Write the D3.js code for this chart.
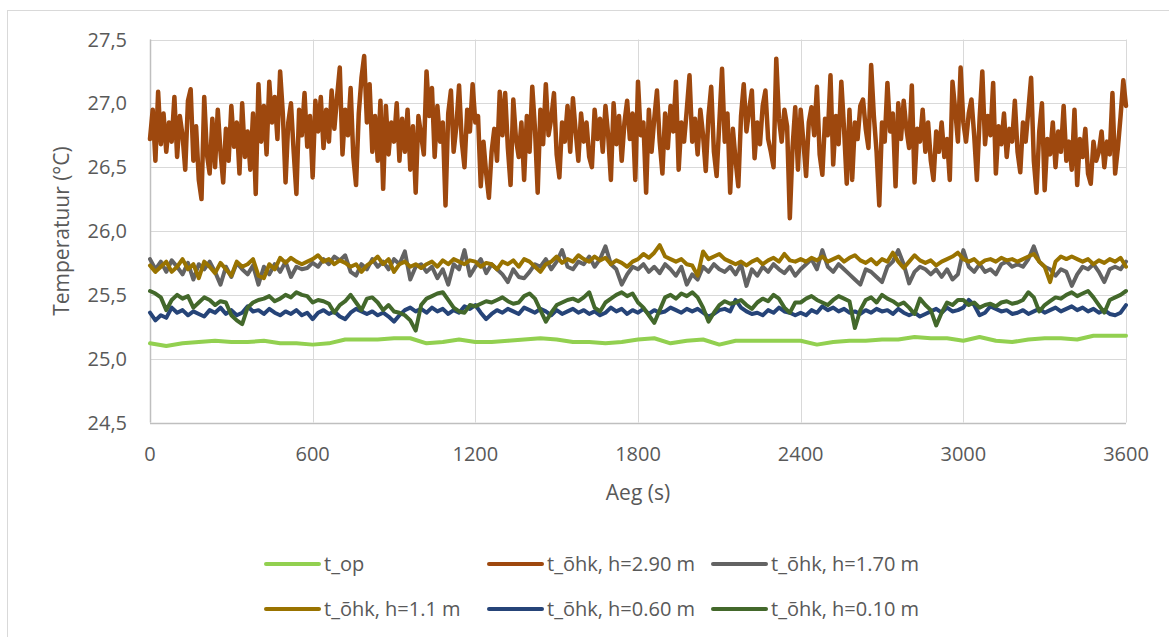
<!DOCTYPE html>
<meta charset="utf-8">
<style>
body {
  margin: 0;
  background: #fff;
}
text {
  font-family: "Open Sans", sans-serif;
  fill: #595959;
}
.grid line {
  stroke: #d9d9d9;
  stroke-width: 1;
}
.series {
  fill: none;
  stroke-linejoin: round;
  stroke-linecap: round;
}
</style>
<div id="chart"></div>
<script src="https://cdn.jsdelivr.net/npm/d3@7"></script>
<script>

// time axis (s)
var xTicks = [0, 600, 1200, 1800, 2400, 3000, 3600]
var yTicks = [24.5, 25.0, 25.5, 26.0, 26.5, 27.0, 27.5]

var timeOp = d3.range(0, 3601, 60)     // t_op sampled every 60 s
var time10 = d3.range(0, 3601, 10)     // h=2.90 every 10 s
var time20 = d3.range(0, 3601, 20)     // others every 20 s

var tOp = [25.12, 25.10, 25.12, 25.13, 25.14, 25.13, 25.13, 25.14, 25.12, 25.12,
  25.11, 25.12, 25.15, 25.15, 25.15, 25.16, 25.16, 25.12, 25.13, 25.15,
  25.13, 25.13, 25.14, 25.15, 25.16, 25.15, 25.13, 25.13, 25.12, 25.13,
  25.15, 25.16, 25.12, 25.14, 25.15, 25.11, 25.14, 25.14, 25.14, 25.14,
  25.14, 25.11, 25.13, 25.14, 25.14, 25.15, 25.15, 25.17, 25.16, 25.16,
  25.14, 25.17, 25.14, 25.13, 25.15, 25.16, 25.16, 25.15, 25.18, 25.18,
  25.18]

var h290 = [26.72, 26.95, 26.55, 27.09, 26.68, 26.92, 26.62, 26.85, 26.70, 27.05,
  26.58, 26.90, 26.75, 26.48, 27.02, 27.11, 26.55, 26.82, 26.40, 26.25,
  27.05, 26.60, 26.45, 26.88, 26.50, 26.95, 26.62, 26.38, 26.80, 26.55,
  26.98, 26.66, 26.85, 26.45, 27.00, 26.58, 26.78, 26.48, 26.92, 26.29,
  27.15, 26.70, 26.98, 26.60, 27.17, 26.85, 27.05, 26.72, 27.25, 26.92,
  26.38, 26.85, 27.00, 26.62, 26.29, 26.95, 26.75, 27.08, 26.66, 26.90,
  26.42, 27.02, 26.78, 27.05, 26.65, 26.95, 26.70, 27.10, 26.80, 27.05,
  27.28, 26.60, 26.95, 26.75, 27.12, 26.58, 26.36, 26.92, 27.20, 27.37,
  26.85, 27.15, 26.62, 26.90, 26.55, 27.02, 26.33, 26.98, 26.60, 26.85,
  26.70, 27.00, 26.55, 26.88, 26.62, 26.95, 26.48, 26.82, 26.30, 26.90,
  26.75, 26.60, 27.25, 26.90, 27.12, 26.58, 26.98, 26.70, 26.85, 26.20,
  26.92, 27.10, 26.62, 26.82, 27.14, 26.70, 26.50, 26.95, 26.78, 27.15,
  26.85, 26.90, 26.35, 26.70, 26.45, 26.26, 26.62, 26.80, 26.55, 27.09,
  26.75, 27.08, 26.65, 26.36, 27.03, 26.72, 26.58, 26.85, 26.40, 26.90,
  26.62, 27.13, 26.80, 26.30, 26.95, 26.68, 27.15, 26.75, 26.88, 27.08,
  26.60, 26.42, 26.85, 26.70, 26.98, 26.62, 27.04, 26.78, 26.55, 26.92,
  26.70, 26.85, 26.58, 26.50, 26.95, 26.72, 26.88, 26.62, 26.98, 26.75,
  26.40, 27.00, 26.68, 26.90, 26.55, 26.85, 27.02, 26.72, 26.92, 26.40,
  27.17, 26.75, 26.85, 26.30, 26.95, 26.62, 26.88, 27.10, 26.70, 26.45,
  26.92, 26.65, 26.98, 26.78, 27.17, 26.48, 26.85, 26.70, 26.95, 27.22,
  26.70, 26.88, 26.60, 26.95, 26.75, 26.47, 26.90, 27.13, 26.62, 26.43,
  26.85, 27.27, 26.70, 26.92, 26.30, 26.80, 26.55, 26.35, 26.90, 27.15,
  26.78, 26.95, 27.10, 26.57, 26.85, 26.68, 26.98, 27.10, 26.72, 26.62,
  26.50, 27.35, 26.88, 26.70, 26.95, 26.82, 26.10, 26.65, 26.97, 26.48,
  26.95, 26.70, 26.43, 26.85, 26.97, 26.75, 27.13, 26.60, 26.44, 26.88,
  26.75, 27.22, 26.52, 26.90, 26.68, 27.17, 26.80, 26.37, 26.95, 26.40,
  26.85, 26.72, 26.98, 27.03, 26.80, 26.65, 27.30, 26.90, 26.62, 26.20,
  26.85, 26.70, 27.16, 26.78, 26.92, 26.35, 27.00, 26.72, 27.02, 26.80,
  26.65, 27.14, 26.38, 26.80, 26.70, 26.95, 26.62, 26.85, 26.55, 26.40,
  26.78, 26.62, 26.85, 26.58, 26.72, 26.40, 27.17, 26.95, 26.70, 27.28,
  26.85, 26.70, 26.92, 27.03, 26.75, 26.40, 26.88, 27.25, 26.68, 26.90,
  26.75, 27.16, 26.45, 26.82, 26.68, 26.92, 26.58, 26.80, 26.70, 27.02,
  26.62, 26.46, 26.85, 26.70, 26.95, 27.20, 26.55, 26.30, 26.78, 27.00,
  26.32, 26.72, 26.60, 26.85, 26.50, 26.78, 26.62, 26.98, 26.55, 26.70,
  26.48, 26.95, 26.36, 26.72, 26.58, 26.80, 26.45, 26.37, 26.70, 26.55,
  26.62, 26.78, 26.50, 26.70, 26.60, 27.08, 26.45, 26.65, 26.90, 27.18,
  26.98]

var h170 = [25.78, 25.70, 25.76, 25.68, 25.77, 25.72, 25.66, 25.75, 25.62, 25.74,
  25.70, 25.76, 25.68, 25.58, 25.72, 25.64, 25.75, 25.70, 25.66, 25.73,
  25.58, 25.72, 25.66, 25.74, 25.68, 25.76, 25.64, 25.72, 25.70, 25.71,
  25.75, 25.72, 25.78, 25.74, 25.80, 25.77, 25.81, 25.68, 25.65, 25.74,
  25.70, 25.78, 25.72, 25.76, 25.70, 25.78, 25.74, 25.84, 25.62, 25.72,
  25.74, 25.68, 25.72, 25.63, 25.70, 25.58, 25.74, 25.70, 25.85, 25.65,
  25.72, 25.78, 25.67, 25.74, 25.70, 25.66, 25.60, 25.70, 25.64, 25.63,
  25.68, 25.74, 25.72, 25.78, 25.70, 25.76, 25.85, 25.72, 25.70, 25.76,
  25.74, 25.80, 25.72, 25.78, 25.88, 25.74, 25.70, 25.58, 25.66, 25.72,
  25.70, 25.74, 25.68, 25.72, 25.67, 25.74, 25.70, 25.65, 25.72, 25.58,
  25.66, 25.62, 25.72, 25.68, 25.74, 25.70, 25.68, 25.72, 25.66, 25.74,
  25.57, 25.70, 25.65, 25.72, 25.68, 25.74, 25.70, 25.67, 25.72, 25.65,
  25.70, 25.74, 25.78, 25.70, 25.85, 25.72, 25.68, 25.74, 25.70, 25.66,
  25.62, 25.58, 25.70, 25.68, 25.64, 25.60, 25.72, 25.76, 25.85, 25.74,
  25.59, 25.68, 25.72, 25.70, 25.66, 25.70, 25.64, 25.70, 25.62, 25.66,
  25.85, 25.72, 25.68, 25.74, 25.68, 25.70, 25.66, 25.74, 25.76, 25.72,
  25.74, 25.72, 25.78, 25.88, 25.76, 25.72, 25.70, 25.65, 25.70, 25.68,
  25.57, 25.66, 25.72, 25.70, 25.74, 25.68, 25.60, 25.70, 25.72, 25.70,
  25.76]

var h110 = [25.73, 25.68, 25.72, 25.76, 25.68, 25.72, 25.78, 25.70, 25.74, 25.63,
  25.76, 25.72, 25.67, 25.75, 25.70, 25.65, 25.76, 25.72, 25.74, 25.78,
  25.65, 25.63, 25.74, 25.70, 25.79, 25.75, 25.79, 25.76, 25.74, 25.76,
  25.78, 25.81, 25.76, 25.78, 25.74, 25.77, 25.75, 25.72, 25.74, 25.68,
  25.73, 25.76, 25.80, 25.74, 25.78, 25.68, 25.74, 25.76, 25.72, 25.74,
  25.71, 25.74, 25.76, 25.72, 25.77, 25.74, 25.78, 25.76, 25.74, 25.77,
  25.76, 25.72, 25.75, 25.74, 25.70, 25.76, 25.74, 25.77, 25.72, 25.78,
  25.76, 25.72, 25.68, 25.74, 25.76, 25.80, 25.75, 25.78, 25.76, 25.81,
  25.78, 25.76, 25.80, 25.77, 25.79, 25.74, 25.77, 25.75, 25.72, 25.76,
  25.78, 25.82, 25.79, 25.83, 25.89, 25.80, 25.78, 25.76, 25.78, 25.74,
  25.73, 25.65, 25.84, 25.78, 25.80, 25.82, 25.78, 25.76, 25.74, 25.76,
  25.73, 25.76, 25.78, 25.74, 25.77, 25.79, 25.76, 25.82, 25.77, 25.76,
  25.78, 25.76, 25.79, 25.77, 25.80, 25.76, 25.78, 25.80, 25.76, 25.79,
  25.81, 25.77, 25.75, 25.78, 25.74, 25.78, 25.76, 25.83, 25.76, 25.71,
  25.76, 25.81, 25.77, 25.75, 25.77, 25.73, 25.76, 25.78, 25.80, 25.83,
  25.78, 25.76, 25.78, 25.74, 25.77, 25.78, 25.76, 25.79, 25.77, 25.78,
  25.76, 25.78, 25.80, 25.82, 25.76, 25.72, 25.60, 25.76, 25.80, 25.78,
  25.80, 25.78, 25.76, 25.78, 25.74, 25.77, 25.75, 25.78, 25.76, 25.79,
  25.72]

var h060 = [25.36, 25.30, 25.34, 25.32, 25.40, 25.36, 25.38, 25.34, 25.37, 25.35,
  25.33, 25.38, 25.36, 25.40, 25.35, 25.38, 25.34, 25.36, 25.41, 25.37,
  25.38, 25.35, 25.39, 25.36, 25.34, 25.37, 25.35, 25.38, 25.34, 25.36,
  25.31, 25.36, 25.38, 25.35, 25.37, 25.33, 25.31, 25.36, 25.39, 25.37,
  25.35, 25.37, 25.34, 25.36, 25.33, 25.29, 25.34, 25.38, 25.40, 25.37,
  25.39, 25.36, 25.40, 25.37, 25.39, 25.35, 25.38, 25.36, 25.41, 25.39,
  25.42, 25.36, 25.31, 25.35, 25.38, 25.36, 25.39, 25.37, 25.35, 25.40,
  25.38, 25.36, 25.39, 25.37, 25.34, 25.38, 25.35, 25.37, 25.39, 25.36,
  25.38, 25.35, 25.37, 25.34, 25.36, 25.40, 25.37, 25.39, 25.35, 25.38,
  25.36, 25.39, 25.35, 25.38, 25.36, 25.37, 25.40, 25.38, 25.36, 25.39,
  25.37, 25.39, 25.36, 25.33, 25.35, 25.38, 25.39, 25.37, 25.46, 25.40,
  25.37, 25.35, 25.36, 25.34, 25.38, 25.36, 25.40, 25.37, 25.36, 25.34,
  25.36, 25.34, 25.38, 25.36, 25.41, 25.38, 25.40, 25.37, 25.39, 25.36,
  25.37, 25.35, 25.38, 25.36, 25.39, 25.37, 25.38, 25.35, 25.39, 25.36,
  25.34, 25.36, 25.33, 25.35, 25.37, 25.39, 25.36, 25.40, 25.37, 25.38,
  25.40, 25.46, 25.42, 25.34, 25.36, 25.41, 25.39, 25.37, 25.38, 25.35,
  25.36, 25.38, 25.35, 25.37, 25.39, 25.36, 25.38, 25.40, 25.37, 25.39,
  25.41, 25.38, 25.40, 25.37, 25.39, 25.36, 25.38, 25.35, 25.34, 25.36,
  25.42]

var h010 = [25.53, 25.51, 25.48, 25.38, 25.46, 25.50, 25.47, 25.49, 25.40, 25.44,
  25.48, 25.46, 25.42, 25.45, 25.44, 25.34, 25.30, 25.27, 25.40, 25.44,
  25.46, 25.47, 25.49, 25.45, 25.47, 25.50, 25.48, 25.52, 25.50, 25.49,
  25.44, 25.46, 25.45, 25.43, 25.36, 25.42, 25.45, 25.50, 25.44, 25.38,
  25.47, 25.48, 25.44, 25.38, 25.42, 25.37, 25.36, 25.34, 25.30, 25.22,
  25.42, 25.47, 25.49, 25.51, 25.52, 25.46, 25.40, 25.37, 25.36, 25.42,
  25.41, 25.43, 25.45, 25.44, 25.46, 25.48, 25.45, 25.43, 25.44, 25.49,
  25.51, 25.47, 25.38, 25.29, 25.36, 25.42, 25.44, 25.46, 25.47, 25.45,
  25.48, 25.52, 25.40, 25.37, 25.44, 25.47, 25.50, 25.52, 25.49, 25.51,
  25.44, 25.40, 25.34, 25.28, 25.38, 25.48, 25.50, 25.47, 25.51, 25.49,
  25.52, 25.48, 25.40, 25.29, 25.36, 25.42, 25.45, 25.43, 25.44, 25.46,
  25.42, 25.39, 25.44, 25.47, 25.45, 25.50, 25.47, 25.40, 25.36, 25.44,
  25.44, 25.47, 25.49, 25.46, 25.44, 25.42, 25.46, 25.49, 25.47, 25.45,
  25.24, 25.38, 25.46, 25.48, 25.44, 25.50, 25.47, 25.45, 25.42, 25.44,
  25.40, 25.35, 25.47, 25.42, 25.38, 25.26, 25.36, 25.44, 25.42, 25.46,
  25.46, 25.42, 25.44, 25.40, 25.42, 25.43, 25.41, 25.44, 25.45, 25.43,
  25.44, 25.46, 25.52, 25.48, 25.37, 25.42, 25.45, 25.48, 25.47, 25.50,
  25.52, 25.49, 25.51, 25.53, 25.48, 25.42, 25.36, 25.46, 25.48, 25.50,
  25.53]

var seriesNames = ["t_op", "t_õhk, h=2.90 m", "t_õhk, h=1.70 m", "t_õhk, h=1.1 m", "t_õhk, h=0.60 m", "t_õhk, h=0.10 m"]
var seriesColors = ["#92d050", "#9e480e", "#636363", "#997300", "#264478", "#43682b"]
var seriesTimes = [timeOp, time10, time20, time20, time20, time20]
var seriesValues = [tOp, h290, h170, h110, h060, h010]

var width = 1169, height = 637

var x = d3.scaleLinear().domain([0, 3600]).range([150, 1126])
var y = d3.scaleLinear().domain([24.5, 27.5]).range([422.5, 39.5])

var svg = d3.select("#chart").append("svg")
  .attr("width", width)
  .attr("height", height)

// chart frame
svg.append("rect")
  .attr("x", 7.5).attr("y", 10.5)
  .attr("width", 1200).attr("height", 700)
  .attr("fill", "#fff")
  .attr("stroke", "#d9d9d9")

var grid = svg.append("g").attr("class", "grid")

grid.selectAll(".hg")
  .data(yTicks)
  .enter().append("line")
  .attr("x1", x(0)).attr("x2", x(3600))
  .attr("y1", function(d) { return Math.round(y(d)) + 0.5 })
  .attr("y2", function(d) { return Math.round(y(d)) + 0.5 })

grid.selectAll(".vg")
  .data(xTicks)
  .enter().append("line")
  .attr("x1", function(d) { return Math.round(x(d)) + 0.5 })
  .attr("x2", function(d) { return Math.round(x(d)) + 0.5 })
  .attr("y1", y(27.5)).attr("y2", y(24.5))

// axes lines
svg.append("line")
  .attr("x1", x(0)).attr("x2", x(3600))
  .attr("y1", Math.round(y(24.5)) + 0.5).attr("y2", Math.round(y(24.5)) + 0.5)
  .attr("stroke", "#bfbfbf").attr("stroke-width", 1.5)
svg.append("line")
  .attr("x1", Math.round(x(0)) + 0.5).attr("x2", Math.round(x(0)) + 0.5)
  .attr("y1", y(27.5)).attr("y2", y(24.5))
  .attr("stroke", "#bfbfbf").attr("stroke-width", 1.5)

var fmtY = function(d) { return d3.format(".1f")(d).replace(".", ",") }

svg.append("g").selectAll("text")
  .data(yTicks)
  .enter().append("text")
  .attr("x", 127)
  .attr("y", function(d) { return y(d) })
  .attr("dy", "0.35em")
  .attr("text-anchor", "end")
  .style("font-size", "20px")
  .text(fmtY)

svg.append("g").selectAll("text")
  .data(xTicks)
  .enter().append("text")
  .attr("x", function(d) { return x(d) })
  .attr("y", 461)
  .attr("text-anchor", "middle")
  .style("font-size", "20px")
  .text(function(d) { return d })

svg.append("text")
  .attr("x", 638).attr("y", 500)
  .attr("text-anchor", "middle")
  .style("font-size", "21px")
  .text("Aeg (s)")

svg.append("text")
  .attr("transform", "translate(69," + y(26) + ") rotate(-90)")
  .attr("text-anchor", "middle")
  .style("font-size", "21px")
  .text("Temperatuur (°C)")

// lines
var line = d3.line()
  .x(function(d) { return x(d[0]) })
  .y(function(d) { return y(d[1]) })

seriesValues.forEach(function(vals, i) {
  var pts = vals.map(function(v, j) { return [seriesTimes[i][j], v] })
  svg.append("path")
    .datum(pts)
    .attr("class", "series")
    .attr("stroke", seriesColors[i])
    .attr("stroke-width", i == 1 ? 4.5 : 4)
    .attr("d", line)
})

// legend
var legX = [266, 489, 713]
var legY = [564, 609]

var leg = svg.append("g").selectAll("g")
  .data(seriesNames)
  .enter().append("g")
  .attr("transform", function(d, i) { return "translate(" + legX[i % 3] + "," + legY[Math.floor(i / 3)] + ")" })

leg.append("line")
  .attr("x1", 0).attr("x2", 53)
  .attr("stroke", function(d, i) { return seriesColors[i] })
  .attr("stroke-width", 4)
  .attr("stroke-linecap", "round")

leg.append("text")
  .attr("x", 58)
  .attr("dy", "0.35em")
  .style("font-size", "20px")
  .text(function(d) { return d })

</script>
